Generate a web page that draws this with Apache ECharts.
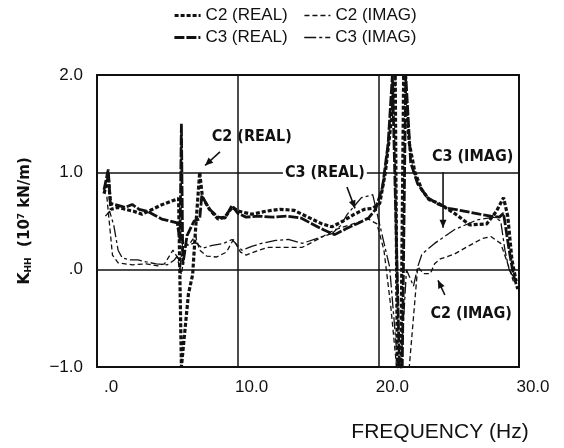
<!DOCTYPE html>
<html>
<head>
<meta charset="utf-8">
<script src="https://cdn.jsdelivr.net/npm/echarts@6/dist/echarts.min.js"></script>
<style>
  html, body { margin: 0; padding: 0; background: #fff; }
  #chart { width: 564px; height: 448px; }
</style>
</head>
<body>
<div id="chart"></div>
<script>
// tick labels
const xTickLabels = ['.0', '10.0', '20.0', '30.0']
const yTickLabels = ['\u22121.0', '.0', '1.0', '2.0']

// [frequency Hz, K_HH in 10^7 kN/m]
const c2Real = [[0.5,0.78],[0.8,0.95],[1.0,0.62],[1.5,0.64],[2.0,0.62],[2.6,0.60],[3.2,0.57],[3.8,0.61],[4.5,0.66],[5.2,0.70],[5.8,0.73],[6.0,-1.0],[6.5,-0.25],[6.8,-0.05],[7.0,0.4],[7.2,0.8],[7.3,1.0],[7.5,0.74],[8.0,0.62],[8.6,0.52],[9.1,0.54],[9.6,0.64],[10.1,0.6],[11.0,0.57],[12.0,0.6],[13.0,0.62],[14.0,0.61],[15.0,0.54],[16.0,0.47],[16.7,0.44],[17.5,0.5],[18.3,0.57],[19.0,0.62],[19.6,0.63],[20.1,0.68],[20.5,1.0],[20.9,1.5],[21.2,2.0],[21.35,-1.0],[21.6,-1.0],[21.8,2.0],[22.2,1.3],[22.6,1.0],[23.1,0.82],[23.6,0.72],[24.3,0.68],[25.5,0.57],[26.5,0.46],[27.7,0.47],[28.4,0.6],[28.9,0.74],[29.2,0.55],[29.5,0.1],[29.8,-0.12]]
const c2Imag = [[0.7,0.75],[0.9,0.45],[1.1,0.15],[1.5,0.07],[2.5,0.05],[3.5,0.06],[4.3,0.04],[4.8,0.06],[5.4,0.2],[5.7,0.13],[6.0,-0.05],[6.3,0.24],[6.6,0.27],[7.0,0.35],[7.3,0.2],[7.8,0.14],[8.5,0.13],[9.2,0.18],[9.7,0.31],[10.2,0.18],[10.6,0.15],[11.5,0.2],[12.2,0.23],[13.5,0.23],[14.6,0.23],[15.8,0.32],[16.9,0.41],[18.2,0.47],[19.3,0.52],[19.9,0.47],[20.4,0.2],[20.9,-0.4],[21.3,-1.0],[22.2,-1.0],[22.8,0.03],[23.2,-0.04],[23.7,-0.04],[24.0,0.06],[24.4,0.11],[25.4,0.16],[26.5,0.25],[27.4,0.32],[28.0,0.34],[28.7,0.27],[29.2,0.06],[29.6,-0.12]]
const c3Real = [[0.5,0.82],[0.8,1.03],[0.95,0.68],[1.5,0.66],[2.0,0.64],[2.5,0.67],[3.0,0.62],[3.6,0.6],[4.1,0.56],[4.6,0.52],[5.2,0.5],[5.7,0.48],[5.9,0.3],[6.0,1.5],[6.1,0.05],[6.4,0.35],[6.9,0.5],[7.3,0.52],[7.45,0.76],[8.0,0.62],[8.6,0.54],[9.1,0.53],[9.6,0.66],[10.0,0.58],[10.6,0.54],[11.5,0.55],[12.5,0.54],[13.5,0.55],[14.5,0.53],[15.3,0.47],[16.1,0.41],[16.9,0.36],[17.7,0.42],[18.6,0.48],[19.3,0.53],[19.8,0.62],[20.3,0.85],[20.7,1.3],[21.0,2.0],[21.5,-1.0],[21.7,-1.0],[21.95,2.0],[22.3,1.1],[22.8,0.88],[23.5,0.74],[24.3,0.67],[25.0,0.63],[25.8,0.61],[26.5,0.59],[27.2,0.57],[28.0,0.55],[28.6,0.54],[28.9,0.58],[29.3,0.2],[29.6,-0.05],[29.9,-0.2]]
const c3Imag = [[0.6,0.55],[0.9,0.6],[1.2,0.45],[1.5,0.2],[1.8,0.12],[2.4,0.1],[2.9,0.1],[3.5,0.08],[4.2,0.06],[5.0,0.05],[5.5,0.1],[5.7,0.14],[5.9,0.0],[6.1,0.3],[6.5,0.25],[7.0,0.28],[7.5,0.22],[8.2,0.25],[9.0,0.27],[9.6,0.31],[10.3,0.2],[11.0,0.24],[11.7,0.27],[12.7,0.3],[13.6,0.31],[14.6,0.27],[15.6,0.32],[16.7,0.37],[17.3,0.45],[17.8,0.57],[18.8,0.74],[19.6,0.77],[20.2,0.4],[20.8,0.03],[21.4,-1.0],[21.6,-1.0],[22.0,0.0],[22.5,-0.17],[22.8,0.03],[23.1,0.16],[24.0,0.27],[25.4,0.41],[27.0,0.51],[28.2,0.54],[28.7,0.5],[29.0,0.2],[29.3,0.0],[29.7,-0.1]]

// callouts: label position and arrow (from -> to), in data coords
const callouts = [
  { text: 'C2 (REAL)', at: [11.0, 1.36], from: [8.74, 1.21], to: [7.68, 1.07], bg: false },
  { text: 'C3 (REAL)', at: [16.2, 0.99], from: [17.77, 0.85], to: [18.34, 0.63], bg: true },
  { text: 'C3 (IMAG)', at: [26.7, 1.16], from: [24.6, 1.0], to: [24.6, 0.43], bg: false },
  { text: 'C2 (IMAG)', at: [26.6, -0.45], from: [24.73, -0.26], to: [24.24, -0.11], bg: false }
]

const ink = '#111'
const chart = echarts.init(document.getElementById('chart'))

// line look of each curve: [width, dash pattern]
const styles = {
  'C2 (REAL)': [3.2, [4, 2]],
  'C2 (IMAG)': [1.3, [5, 3]],
  'C3 (REAL)': [2.8, [10, 2]],
  'C3 (IMAG)': [1.3, [12, 3, 3, 3]]
}

function lineSeries(name, data) {
  return {
    name: name,
    type: 'line',
    data: data,
    symbol: 'none',
    clip: true,
    itemStyle: { color: ink },
    lineStyle: { color: ink, width: styles[name][0], type: styles[name][1] }
  }
}

function legendItem(name) {
  return {
    name: name,
    itemStyle: { opacity: 0 },
    lineStyle: { color: ink, width: styles[name][0], type: styles[name][1] }
  }
}

const legendBase = {
  left: 168, itemWidth: 26, itemHeight: 10, itemGap: 16,
  textStyle: { color: ink, fontSize: 17, fontFamily: 'Liberation Sans' }
}

chart.setOption({
  animation: false,
  grid: { left: 97, right: 45, top: 75, bottom: 78, show: true, borderColor: ink, borderWidth: 2 },
  legend: [
    Object.assign({ data: ['C2 (REAL)', 'C2 (IMAG)'].map(legendItem), top: 2 }, legendBase),
    Object.assign({ data: ['C3 (REAL)', 'C3 (IMAG)'].map(legendItem), top: 24 }, legendBase)
  ],
  xAxis: {
    type: 'value', min: 0, max: 30, interval: 10,
    name: 'FREQUENCY (Hz)', nameLocation: 'middle', nameGap: 55,
    nameTextStyle: { color: ink, fontSize: 21, fontFamily: 'Liberation Sans', padding: [0, 0, 0, 264] },
    axisLine: { show: false },
    axisTick: { show: false },
    splitLine: { lineStyle: { color: ink, width: 1.5 } },
    axisLabel: {
      color: ink, fontSize: 17, fontFamily: 'Liberation Sans', margin: 12, padding: [0, 0, 0, 28],
      formatter: v => xTickLabels[Math.round(v / 10)]
    }
  },
  yAxis: {
    type: 'value', min: -1, max: 2, interval: 1,
    name: '{k|K}{s|HH}  (10{p|7} kN/m)', nameLocation: 'middle', nameGap: 64,
    nameTextStyle: {
      color: ink, fontSize: 15, fontWeight: 'bold', fontFamily: 'DejaVu Sans',
      rich: {
        k: { fontSize: 16, fontWeight: 'bold', color: ink },
        s: { fontSize: 9, fontWeight: 'bold', color: ink, verticalAlign: 'bottom' },
        p: { fontSize: 9, fontWeight: 'bold', color: ink, verticalAlign: 'top' }
      }
    },
    axisLine: { show: false },
    axisTick: { show: false },
    splitLine: { lineStyle: { color: ink, width: 1.5 } },
    axisLabel: {
      color: ink, fontSize: 17, fontFamily: 'Liberation Sans', margin: 14,
      formatter: v => yTickLabels[Math.round(v) + 1]
    }
  },
  series: [
    lineSeries('C2 (REAL)', c2Real),
    lineSeries('C2 (IMAG)', c2Imag),
    lineSeries('C3 (REAL)', c3Real),
    lineSeries('C3 (IMAG)', c3Imag)
  ]
})

// callout labels and arrows placed through the chart's own scales
const graphics = []
callouts.forEach(c => {
  const p = chart.convertToPixel({ gridIndex: 0 }, c.at)
  const a = chart.convertToPixel({ gridIndex: 0 }, c.from)
  const b = chart.convertToPixel({ gridIndex: 0 }, c.to)
  graphics.push({
    type: 'text', x: p[0], y: p[1], z: 10,
    style: {
      text: c.text, fill: ink, font: 'bold 16px "DejaVu Sans Condensed", "Liberation Sans Narrow", sans-serif',
      align: 'center', verticalAlign: 'middle',
      backgroundColor: c.bg ? '#fff' : 'transparent', padding: [0, 2]
    }
  })
  graphics.push({
    type: 'line', z: 10,
    shape: { x1: a[0], y1: a[1], x2: b[0], y2: b[1] },
    style: { stroke: ink, lineWidth: 1.6 }
  })
  const ang = Math.atan2(b[1] - a[1], b[0] - a[0])
  const L = 8, W = 3.5
  const bx = b[0] - L * Math.cos(ang), by = b[1] - L * Math.sin(ang)
  graphics.push({
    type: 'polygon', z: 10,
    shape: { points: [
      [b[0], b[1]],
      [bx - W * Math.sin(ang), by + W * Math.cos(ang)],
      [bx + W * Math.sin(ang), by - W * Math.cos(ang)]
    ] },
    style: { fill: ink }
  })
})
chart.setOption({ graphic: graphics })
</script>
</body>
</html>
